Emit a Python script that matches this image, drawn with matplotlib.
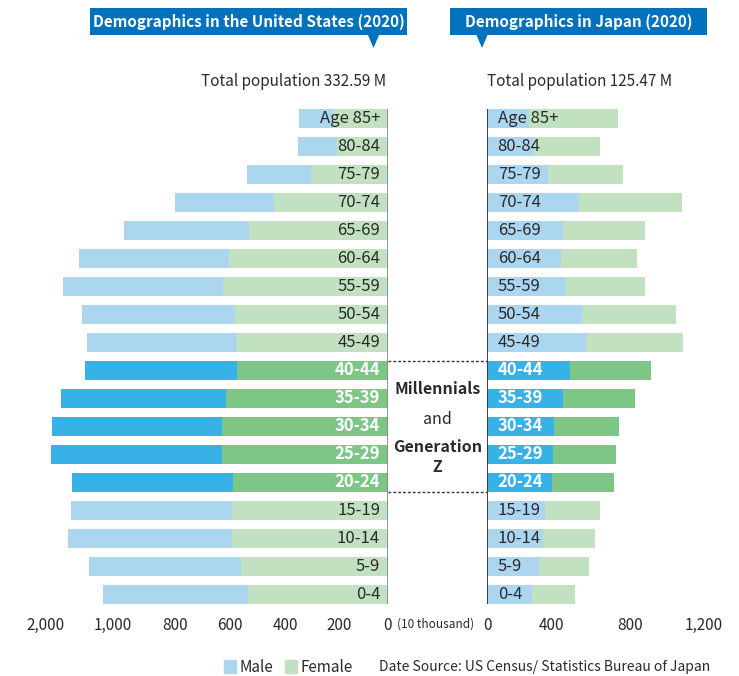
import matplotlib.pyplot as plt
from matplotlib.patches import Patch, Polygon, Rectangle

plt.rcParams['font.family'] = ['Noto Sans CJK JP', 'DejaVu Sans']

# population in units of 10 thousand
ages = ['Age 85+', '80-84', '75-79', '70-74', '65-69', '60-64', '55-59', '50-54', '45-49',
        '40-44', '35-39', '30-34', '25-29', '20-24', '15-19', '10-14', '5-9', '0-4']
us_male = [223, 264, 435, 678, 855, 1026, 1094, 1046, 1026,
           1038, 1126, 1160, 1167, 1099, 1101, 1119, 1040, 992]
us_female = [382, 348, 526, 774, 945, 1081, 1122, 1040, 1027,
             1029, 1104, 1131, 1131, 1056, 1061, 1063, 999, 952]
jp_male = [207, 231, 299, 454, 377, 365, 390, 469, 489,
           411, 374, 332, 326, 321, 286, 275, 256, 223]
jp_female = [441, 327, 373, 510, 405, 377, 391, 466, 481,
             400, 358, 321, 312, 307, 273, 259, 248, 212]
generation = ['40-44', '35-39', '30-34', '25-29', '20-24']
gen_text = ['Millennials', 'and', 'Generation', 'Z']

us_ticks = [2339, 1877, 1452, 1076, 700, 330, 0]
us_ticklabels = ['2,000', '1,000', '800', '600', '400', '200', '0']
jp_ticks = [0, 319, 707, 1070]
jp_ticklabels = ['0', '400', '800', '1,200']

titles = ['Demographics in the United States (2020)', 'Demographics in Japan (2020)']
totals = ['Total population 332.59 M', 'Total population 125.47 M']

light_blue, light_green = '#acd6f0', '#c1e1c1'
blue, green = '#38b2e6', '#7dc686'
box_blue = '#0071bc'
dark = '#2a2a2a'

W, H = 739, 676
fig = plt.figure(figsize=(W / 100, H / 100), dpi=100)


def px_axes(x0, x1, y0, y1):
    return fig.add_axes([x0 / W, 1 - y1 / H, (x1 - x0) / W, (y1 - y0) / H])


rows = list(range(len(ages)))
bh = 0.667
ylim = ((612 - 118.3) / 28, (100 - 118.3) / 28)
hl = [a in generation for a in ages]
male_c = [blue if h else light_blue for h in hl]
female_c = [green if h else light_green for h in hl]

# US (bars going left)
ax_us = px_axes(20, 387.7, 100, 612)
ax_us.barh(rows, us_female, height=bh, color=female_c)
ax_us.barh(rows, us_male, left=us_female, height=bh, color=male_c)
ax_us.set_xlim((387.7 - 20) / 0.1465, 0)
ax_us.vlines(0, -bh / 2, rows[-1] + bh / 2, color='#8a8a8a', lw=1.3)
for r, a, h in zip(rows, ages, hl):
    ax_us.annotate(a, (0, r), xytext=(-5.5, 0), textcoords='offset points',
                   ha='right', va='center', fontsize=12,
                   color='white' if h else dark, fontweight='bold' if h else 'normal')
ax_us.set_xticks(us_ticks, us_ticklabels)

# Japan (bars going right)
ax_jp = px_axes(487.3, 730, 100, 612)
ax_jp.barh(rows, jp_male, height=bh, color=male_c)
ax_jp.barh(rows, jp_female, left=jp_male, height=bh, color=female_c)
ax_jp.set_xlim(0, (730 - 487.3) / 0.2018)
ax_jp.vlines(0, -bh / 2, rows[-1] + bh / 2, color='#333333', lw=1.3)
for r, a, h in zip(rows, ages, hl):
    ax_jp.annotate(a, (0, r), xytext=(7.5, 0), textcoords='offset points',
                   ha='left', va='center', fontsize=12,
                   color='white' if h else dark, fontweight='bold' if h else 'normal')
ax_jp.set_xticks(jp_ticks, jp_ticklabels)

for ax in (ax_us, ax_jp):
    ax.set_ylim(*ylim)
    ax.set_yticks([])
    for s in ax.spines.values():
        s.set_visible(False)
    ax.tick_params(axis='x', length=0, pad=3.6, labelsize=11, labelcolor=dark)

# middle band
ax_mid = px_axes(387.7, 487.3, 100, 612)
ax_mid.set_xlim(0, 1)
ax_mid.set_ylim(*ylim)
ax_mid.axis('off')
g0 = ages.index(generation[0]) - bh / 2
g1 = ages.index(generation[-1]) + bh / 2
ax_mid.hlines([g0, g1], 0, 1, color='#333333', lw=1, linestyles=(0, (2, 1.5)))
for t, yy in zip(gen_text, [9.67, 10.74, 11.74, 12.44]):
    ax_mid.text(0.5, yy, t, ha='center', va='center', fontsize=11.5,
                fontweight='bold' if t != 'and' else 'normal', color=dark)

# overlay for titles and footer
ov = fig.add_axes([0, 0, 1, 1])
ov.set_xlim(0, W)
ov.set_ylim(H, 0)
ov.axis('off')
ov.patch.set_alpha(0)

boxes = [(90, 407, 373.5), (450, 707, 482)]
for (x0, x1, tip), t in zip(boxes, titles):
    ov.add_patch(Rectangle((x0, 8), x1 - x0, 27, color=box_blue, lw=0))
    ov.add_patch(Polygon([(tip - 6, 34), (tip + 6, 34), (tip, 48)], color=box_blue, lw=0))
    ov.text((x0 + x1) / 2, 21.5, t, ha='center', va='center', color='white',
            fontsize=11, fontweight='bold')

ov.text(386, 82, totals[0], ha='right', va='center', fontsize=11, color=dark)
ov.text(487, 82, totals[1], ha='left', va='center', fontsize=11, color=dark)
ov.text(436, 624, '(10 thousand)', ha='center', va='center', fontsize=8.5, color=dark)

ov.legend(handles=[Patch(color=light_blue), Patch(color=light_green)],
          labels=['Male', 'Female'], ncol=2, frameon=False, loc='center left',
          bbox_to_anchor=(224, 667), bbox_transform=ov.transData,
          handlelength=0.8, handleheight=0.9, handletextpad=0.2, columnspacing=0.8,
          borderaxespad=0, borderpad=0, fontsize=11, labelcolor=dark)
ov.text(379, 667, 'Date Source: US Census/ Statistics Bureau of Japan',
        ha='left', va='center', fontsize=10, color=dark)

fig.savefig('out.png', dpi=100)
